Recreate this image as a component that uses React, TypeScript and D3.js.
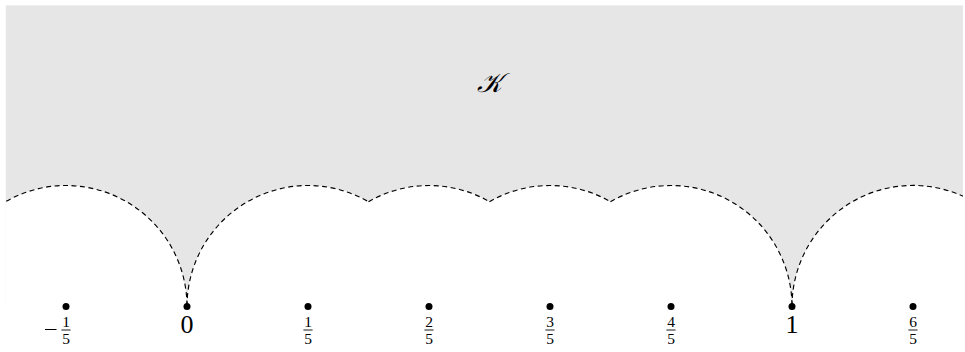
import React from 'react';
import * as d3 from 'd3';

// circle centres (radius 1/5) whose upper arcs bound the region
const centers = [-1 / 5, 1 / 5, 2 / 5, 3 / 5, 4 / 5, 6 / 5];
const radius = 1 / 5;
// marked points on the real line and their labels
const tickValues = [-1 / 5, 0, 1 / 5, 2 / 5, 3 / 5, 4 / 5, 1, 6 / 5];
const tickLabels = ['-1/5', '0', '1/5', '2/5', '3/5', '4/5', '1', '6/5'];
// visible window (in model units)
const xDomain = [-0.3, 1.2826];
const yTop = 0.498;
const regionLabel = '𝒦';
const regionLabelX = 1 / 2;
const regionLabelY = 0.355;

const W = 965;
const H = 352;
const FONT = '"Liberation Serif", "DejaVu Serif", serif';

export default function App() {
  const x = d3.scaleLinear().domain([0, 1]).range([187, 792]);
  const y = d3.scaleLinear().domain([0, 1]).range([306.5, 306.5 - 605]);
  const px = x(radius) - x(0);

  const rx0 = x(xDomain[0]);
  const rx1 = x(xDomain[1]);
  const ry0 = y(yTop);
  const ry1 = y(0);

  // visible arc of each circle: cut where neighbours at distance r intersect (60deg)
  const arcs = centers.map((c) => {
    const hasLeft = centers.some((o) => Math.abs(o - (c - radius)) < 1e-9);
    const hasRight = centers.some((o) => Math.abs(o - (c + radius)) < 1e-9);
    const a0 = hasLeft ? (-2 * Math.PI) / 3 : -Math.PI;
    const a1 = hasRight ? -Math.PI / 3 : 0;
    const p = d3.path();
    p.arc(x(c), y(0), px, a0, a1, false);
    return p.toString();
  });

  return (
    <svg width={W} height={H} style={{ position: 'absolute', left: 0, top: 0, display: 'block' }}>
      <defs>
        <clipPath id="region">
          <rect x={rx0} y={ry0} width={rx1 - rx0} height={ry1 - ry0 + 1} />
        </clipPath>
      </defs>
      <rect width={W} height={H} fill="#fff" />
      <g clipPath="url(#region)">
        <rect x={rx0} y={ry0} width={rx1 - rx0} height={ry1 - ry0} fill="#e6e6e6" />
        {centers.map((c, i) => (
          <circle key={i} cx={x(c)} cy={y(0)} r={px} fill="#fff" />
        ))}
        {arcs.map((d, i) => (
          <path key={i} d={d} fill="none" stroke="#000" strokeWidth={1.15} strokeDasharray="5 3.5" />
        ))}
      </g>
      <text
        x={x(regionLabelX)}
        y={y(regionLabelY)}
        textAnchor="middle"
        fontFamily='"DejaVu Serif", "DejaVu Sans", serif'
        fontStyle="italic"
        fontSize={27}
        fill="#000"
      >
        {regionLabel}
      </text>
      {tickValues.map((v, i) => {
        const cx = x(v);
        const label = tickLabels[i];
        const neg = label.startsWith('-');
        const body = neg ? label.slice(1) : label;
        const parts = body.split('/');
        return (
          <g key={i}>
            <circle cx={cx} cy={y(0)} r={3.5} fill="#000" />
            {parts.length === 1 ? (
              <text x={cx} y={332.5} textAnchor="middle" fontFamily={FONT} fontSize={26} fill="#000">
                {parts[0]}
              </text>
            ) : (
              <g>
                <text x={cx} y={327} textAnchor="middle" fontFamily={FONT} fontSize={15.5} fill="#000">
                  {parts[0]}
                </text>
                <line x1={cx - 4.6} x2={cx + 4.6} y1={330} y2={330} stroke="#000" strokeWidth={0.9} />
                <text x={cx} y={344} textAnchor="middle" fontFamily={FONT} fontSize={15.5} fill="#000">
                  {parts[1]}
                </text>
                {neg && (
                  <line x1={cx - 21} x2={cx - 9.5} y1={329.5} y2={329.5} stroke="#000" strokeWidth={1} />
                )}
              </g>
            )}
          </g>
        );
      })}
    </svg>
  );
}
